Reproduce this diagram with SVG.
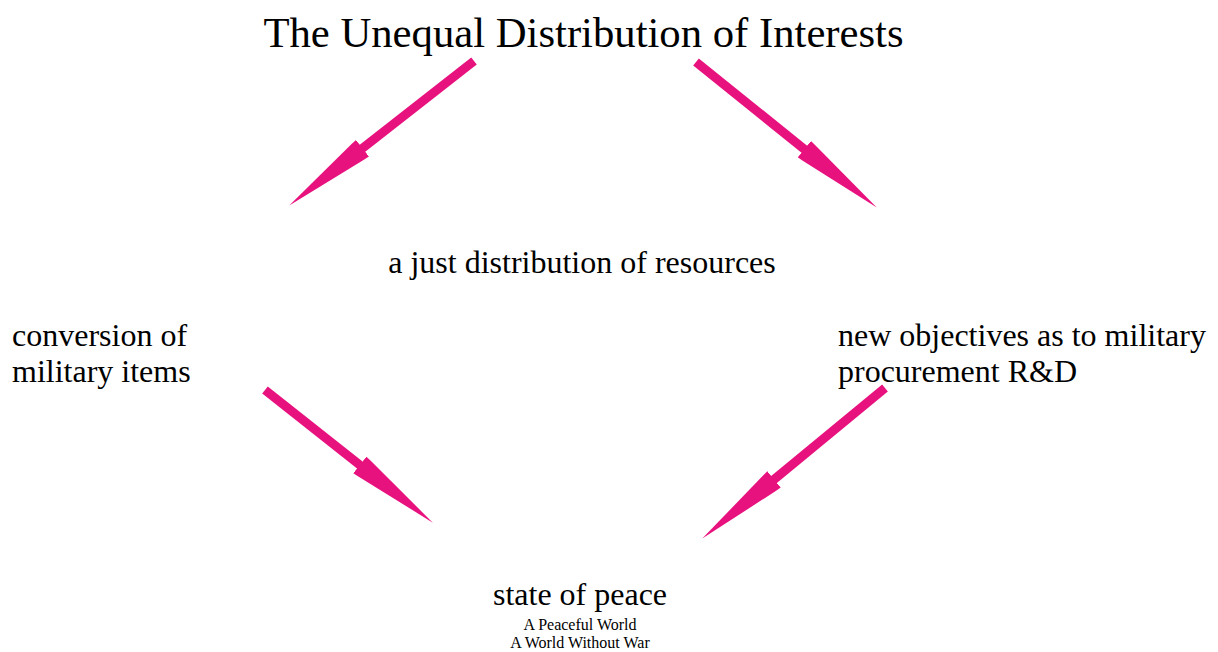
<svg xmlns="http://www.w3.org/2000/svg" width="1218" height="652" viewBox="0 0 1218 652">
  <defs>
    <style>
      .lbl { font-family: "Liberation Serif", "Times New Roman", serif; fill: #000; }
      .big { font-size: 32px; }
      .title { font-size: 42.7px; }
      .small { font-size: 16px; }
      .arrow { stroke: #E8127E; stroke-width: 9; stroke-linecap: butt; fill: none; }
    </style>
    <marker id="head" markerUnits="userSpaceOnUse" viewBox="0 -11 93 22" markerWidth="93" markerHeight="22" refX="2" refY="0" orient="auto">
      <path d="M0,-10.5 L6,-10 L93,0 L6,10 L0,10.5 Z" fill="#E8127E"/>
    </marker>
  </defs>

  <rect width="1218" height="652" fill="#fff"/>

  <!-- headline -->
  <g id="node-title">
    <text class="lbl title" x="583.5" y="47" text-anchor="middle">The Unequal Distribution of Interests</text>
  </g>

  <g id="node-resources">
    <text class="lbl big" x="582" y="273" text-anchor="middle">a just distribution of resources</text>
  </g>

  <g id="node-conversion">
    <text class="lbl big" x="12" y="346">conversion of</text>
    <text class="lbl big" x="12" y="382">military items</text>
  </g>

  <g id="node-objectives">
    <text class="lbl big" x="838" y="346">new objectives as to military</text>
    <text class="lbl big" x="838" y="382">procurement R&amp;D</text>
  </g>

  <g id="node-peace">
    <text class="lbl big" x="580" y="605" text-anchor="middle">state of peace</text>
    <text class="lbl small" x="580" y="630" text-anchor="middle">A Peaceful World</text>
    <text class="lbl small" x="580" y="648" text-anchor="middle">A World Without War</text>
  </g>

  <!-- connectors: each line ends at the base of its arrowhead -->
  <g id="connectors">
    <line class="arrow" x1="474" y1="61" x2="360.9" y2="149.5" marker-end="url(#head)"/>
    <line class="arrow" x1="696" y1="62" x2="805.9" y2="150.5" marker-end="url(#head)"/>
    <line class="arrow" x1="265" y1="390" x2="361.4" y2="466.2" marker-end="url(#head)"/>
    <line class="arrow" x1="885" y1="388" x2="772.5" y2="480.7" marker-end="url(#head)"/>
  </g>
</svg>
